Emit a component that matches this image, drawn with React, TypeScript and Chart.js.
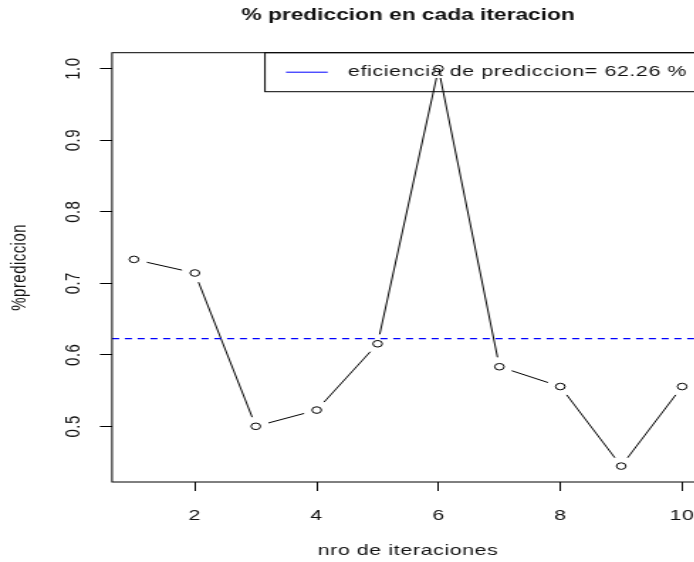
import React, { useEffect, useRef } from "react";
import { Chart, registerables } from "chart.js";

Chart.register(...registerables);

// ---- data ----
const iterations = [1, 2, 3, 4, 5, 6, 7, 8, 9, 10];
const prediction = [0.7333, 0.7143, 0.5, 0.5227, 0.6154, 1.0, 0.5833, 0.5556, 0.4444, 0.5556];
const meanPrediction = 0.6226;
const xTickValues = [2, 4, 6, 8, 10];
const yTickValues = [0.5, 0.6, 0.7, 0.8, 0.9, 1.0];
const yTickLabels = ["0.5", "0.6", "0.7", "0.8", "0.9", "1.0"];
const titleText = "% prediccion en cada iteracion";
const xTitleText = "nro de iteraciones";
const yTitleText = "%prediccion";
const legendText = `eficiencia de prediccion= ${(meanPrediction * 100).toFixed(2)} %`;

// ---- layout (native units, stretched horizontally by SX) ----
const SX = 1.42;
const W = 510;
const H = 562;
const FONT = "'Liberation Sans', Arial, Helvetica, sans-serif";
const GAP = 9.5;
const SPACING = "0.45px";

const xMin = Math.min(...iterations);
const xMax = Math.max(...iterations);
const xPad = (xMax - xMin) * 0.04;
const yMinV = Math.min(...prediction);
const yMaxV = Math.max(...prediction);
const yPad = (yMaxV - yMinV) * 0.04;

const rPlot = {
  id: "rPlot",
  beforeDraw(chart: any) {
    (chart.ctx as any).letterSpacing = SPACING;
  },
  afterDatasetsDraw(chart: any) {
    const { ctx, chartArea: a, scales } = chart;
    const meta = chart.getDatasetMeta(0);
    ctx.save();

    // connecting segments with gaps (type = "b")
    ctx.strokeStyle = "#000";
    ctx.lineWidth = 1;
    ctx.beginPath();
    for (let i = 0; i < meta.data.length - 1; i++) {
      const p = meta.data[i];
      const q = meta.data[i + 1];
      const dx = q.x - p.x;
      const dy = q.y - p.y;
      const d = Math.hypot(dx, dy);
      if (d <= 2 * GAP) continue;
      const ux = dx / d;
      const uy = dy / d;
      ctx.moveTo(p.x + ux * GAP, p.y + uy * GAP);
      ctx.lineTo(q.x - ux * GAP, q.y - uy * GAP);
    }
    ctx.stroke();

    // mean line
    const ym = scales.y.getPixelForValue(meanPrediction);
    ctx.strokeStyle = "#0000ff";
    ctx.lineWidth = 1.2;
    ctx.setLineDash([5, 4]);
    ctx.beginPath();
    ctx.moveTo(a.left, ym);
    ctx.lineTo(a.right, ym);
    ctx.stroke();
    ctx.setLineDash([]);

    // plot box
    ctx.strokeStyle = "#000";
    ctx.lineWidth = 1;
    ctx.strokeRect(a.left, a.top, a.right - a.left, a.bottom - a.top);

    // legend (topright)
    const lLeft = a.right - 309.2;
    const lTop = a.top;
    const lBottom = a.top + 39;
    ctx.strokeRect(lLeft, lTop, a.right - lLeft, lBottom - lTop);
    const ly = lTop + 19.5;
    ctx.strokeStyle = "#0000ff";
    ctx.beginPath();
    ctx.moveTo(lLeft + 14.8, ly);
    ctx.lineTo(lLeft + 44.2, ly);
    ctx.stroke();
    ctx.fillStyle = "#111";
    ctx.font = `15px ${FONT}`;
    (ctx as any).letterSpacing = SPACING;
    ctx.textAlign = "left";
    ctx.textBaseline = "middle";
    ctx.fillText(legendText, lLeft + 58.5, ly);

    // y tick labels (rotated, R style)
    ctx.font = `15px ${FONT}`;
    ctx.textAlign = "center";
    ctx.textBaseline = "middle";
    yTickValues.forEach((v, i) => {
      const py = scales.y.getPixelForValue(v);
      ctx.save();
      ctx.translate(a.left - 27.5, py);
      ctx.rotate(-Math.PI / 2);
      ctx.fillText(yTickLabels[i], 0, 0);
      ctx.restore();
    });

    // main title
    (ctx as any).letterSpacing = "0px";
    ctx.font = `bold 16px ${FONT}`;
    ctx.textAlign = "center";
    ctx.textBaseline = "middle";
    ctx.fillStyle = "#111";
    ctx.fillText(titleText, (a.left + a.right) / 2, 16);

    ctx.restore();
  },
};

export default function App() {
  const ref = useRef<HTMLCanvasElement | null>(null);

  useEffect(() => {
    if (!ref.current) return;
    const chart = new Chart(ref.current, {
      type: "scatter",
      data: {
        datasets: [
          {
            label: "prediccion",
            data: iterations.map((x, i) => ({ x, y: prediction[i] })),
            showLine: false,
            pointStyle: "circle",
            pointRadius: 3.3,
            pointBorderWidth: 1,
            pointBorderColor: "#000",
            pointBackgroundColor: "rgba(0,0,0,0)",
          },
        ],
      },
      options: {
        animation: false,
        responsive: false,
        devicePixelRatio: 1,
        layout: { padding: { top: 52.7, right: W - 495.8, bottom: 0, left: 0 } },
        plugins: {
          legend: { display: false },
          tooltip: { enabled: false },
          title: { display: false },
        },
        scales: {
          x: {
            type: "linear",
            position: "bottom",
            min: xMin - xPad,
            max: xMax + xPad,
            afterBuildTicks: (s: any) => {
              s.ticks = xTickValues.map((v) => ({ value: v }));
            },
            afterFit: (s: any) => {
              s.height = 80;
            },
            grid: {
              display: true,
              drawOnChartArea: false,
              drawTicks: true,
              tickLength: 9,
              color: "#000",
              lineWidth: 1,
            },
            border: { display: false },
            ticks: {
              color: "#111",
              font: { family: FONT, size: 15 },
              padding: 16,
              maxRotation: 0,
              minRotation: 0,
              autoSkip: false,
              callback: (v: any) => String(v),
            },
            title: {
              display: true,
              text: xTitleText,
              color: "#111",
              font: { family: FONT, size: 15 },
              padding: { top: 0, bottom: 2.3 },
            },
          },
          y: {
            type: "linear",
            position: "left",
            min: yMinV - yPad,
            max: yMaxV + yPad,
            afterBuildTicks: (s: any) => {
              s.ticks = yTickValues.map((v) => ({ value: v }));
            },
            afterFit: (s: any) => {
              s.width = 78.9;
            },
            grid: {
              display: true,
              drawOnChartArea: false,
              drawTicks: true,
              tickLength: 8.5,
              color: "#000",
              lineWidth: 1,
            },
            border: { display: false },
            ticks: { display: false },
            title: {
              display: true,
              text: yTitleText,
              color: "#111",
              font: { family: FONT, size: 15 },
              padding: { top: 5, bottom: 0 },
            },
          },
        },
      },
      plugins: [rPlot],
    });
    return () => chart.destroy();
  }, []);

  return (
    <div
      style={{
        position: "fixed",
        left: 0,
        top: 0,
        width: 694,
        height: 562,
        overflow: "hidden",
        background: "#fff",
      }}
    >
      <div
        style={{
          width: W,
          height: H,
          transform: `scaleX(${SX})`,
          transformOrigin: "0 0",
        }}
      >
        <canvas ref={ref} width={W} height={H} style={{ display: "block" }} />
      </div>
    </div>
  );
}
